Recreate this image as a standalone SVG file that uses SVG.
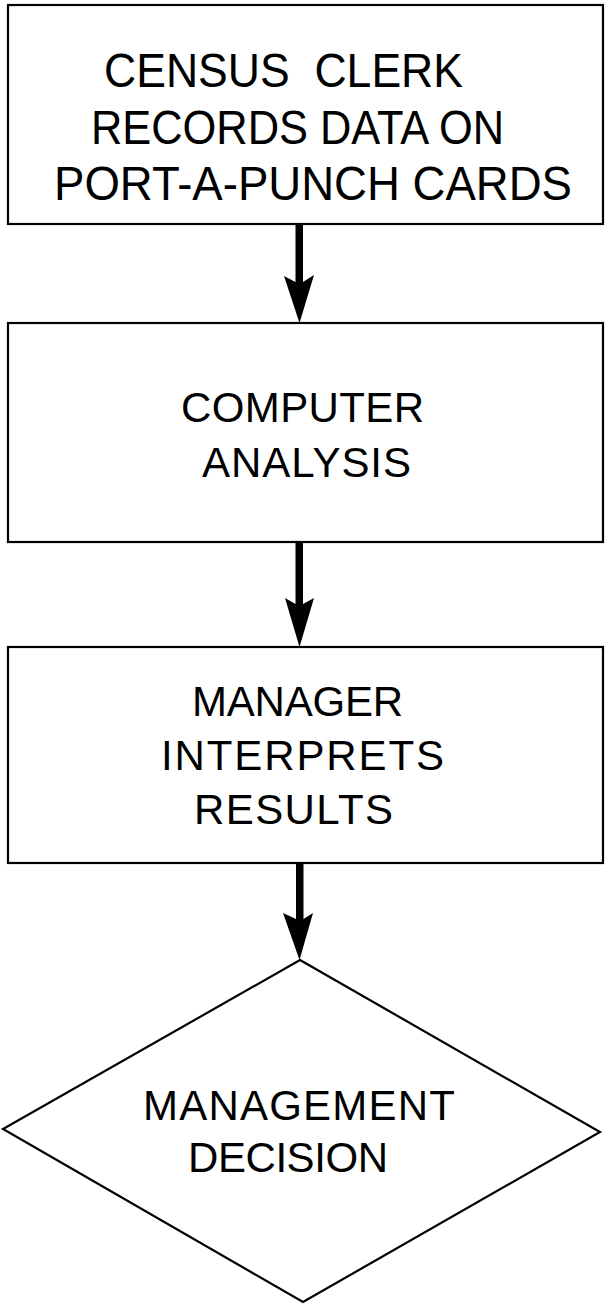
<svg xmlns="http://www.w3.org/2000/svg" width="607" height="1304" viewBox="0 0 607 1304">
<style>
.box{fill:#fff;stroke:#000;stroke-width:2.2}
.t{font-family:"Liberation Sans",Arial,sans-serif;font-size:42px;fill:#000;white-space:pre}
.t1{font-size:48px}
.head{fill:#000}
</style>
<rect width="607" height="1304" fill="#fff"/>
<g id="connectors">
<g id="a1"><rect x="295.5" y="224" width="7.5" height="60" class="head"/><path class="head" d="M299.5,323 L284,276 L295.5,282 L303,282 L314,275 Z"/></g>
<g id="a2"><rect x="295.5" y="542" width="7.5" height="62" class="head"/><path class="head" d="M299.5,647 L285,598 L295.5,604 L303,604 L314,598 Z"/></g>
<g id="a3"><rect x="296" y="863" width="7.5" height="57" class="head"/><path class="head" d="M299.5,960 L283,913 L296,919 L303.5,919 L313,913 Z"/></g>
</g>
<g id="n1">
<rect class="box" x="8" y="5" width="595" height="219"/>
<text class="t t1" x="104" y="87" textLength="359" lengthAdjust="spacingAndGlyphs">CENSUS  CLERK</text>
<text class="t t1" x="91" y="144" textLength="413" lengthAdjust="spacingAndGlyphs">RECORDS DATA ON</text>
<text class="t t1" x="54" y="200" textLength="518" lengthAdjust="spacingAndGlyphs">PORT-A-PUNCH CARDS</text>
</g>
<g id="n2">
<rect class="box" x="8" y="323" width="595" height="219"/>
<text class="t" x="181" y="422" textLength="243" lengthAdjust="spacing">COMPUTER</text>
<text class="t" x="202" y="477" textLength="209" lengthAdjust="spacing">ANALYSIS</text>
</g>
<g id="n3">
<rect class="box" x="8" y="647" width="595" height="216"/>
<text class="t" x="192" y="716" textLength="211" lengthAdjust="spacing">MANAGER</text>
<text class="t" x="161" y="770" textLength="283" lengthAdjust="spacing">INTERPRETS</text>
<text class="t" x="194" y="824" textLength="199" lengthAdjust="spacing">RESULTS</text>
</g>
<g id="n4">
<polygon class="box" points="300,960 600,1132 303,1302 3,1129"/>
<text class="t" x="143" y="1120" textLength="312" lengthAdjust="spacing">MANAGEMENT</text>
<text class="t" x="188" y="1172" textLength="200" lengthAdjust="spacing">DECISION</text>
</g>
</svg>
